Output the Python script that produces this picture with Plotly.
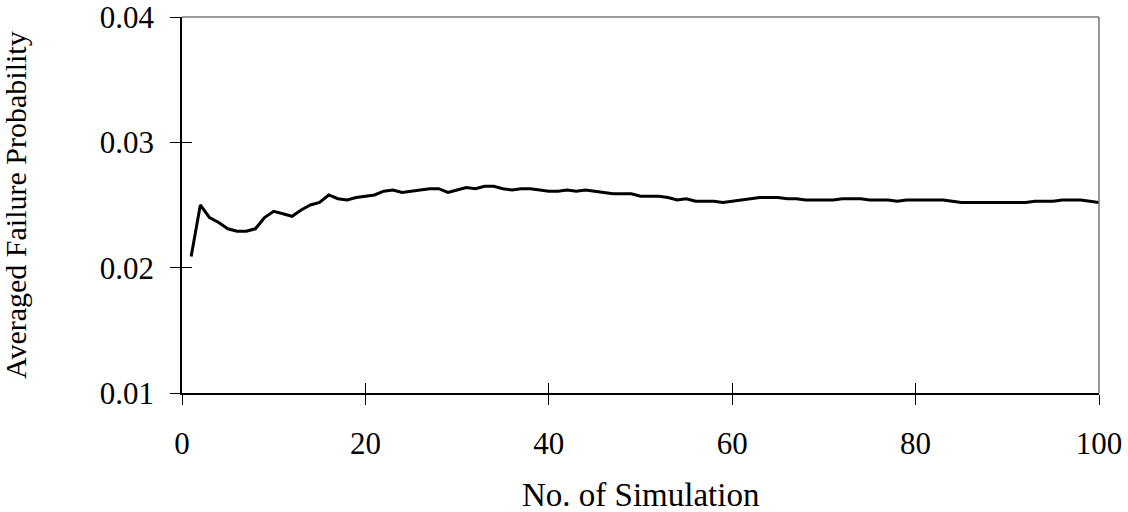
import plotly.graph_objects as go

sim_no = list(range(1, 101))
avg_failure_prob = [
    0.0209, 0.0250, 0.0240, 0.0236, 0.0231, 0.0229, 0.0229, 0.0231, 0.0240, 0.0245,
    0.0243, 0.0241, 0.0246, 0.0250, 0.0252, 0.0258, 0.0255, 0.0254, 0.0256, 0.0257,
    0.0258, 0.0261, 0.0262, 0.0260, 0.0261, 0.0262, 0.0263, 0.0263, 0.0260, 0.0262,
    0.0264, 0.0263, 0.0265, 0.0265, 0.0263, 0.0262, 0.0263, 0.0263, 0.0262, 0.0261,
    0.0261, 0.0262, 0.0261, 0.0262, 0.0261, 0.0260, 0.0259, 0.0259, 0.0259, 0.0257,
    0.0257, 0.0257, 0.0256, 0.0254, 0.0255, 0.0253, 0.0253, 0.0253, 0.0252, 0.0253,
    0.0254, 0.0255, 0.0256, 0.0256, 0.0256, 0.0255, 0.0255, 0.0254, 0.0254, 0.0254,
    0.0254, 0.0255, 0.0255, 0.0255, 0.0254, 0.0254, 0.0254, 0.0253, 0.0254, 0.0254,
    0.0254, 0.0254, 0.0254, 0.0253, 0.0252, 0.0252, 0.0252, 0.0252, 0.0252, 0.0252,
    0.0252, 0.0252, 0.0253, 0.0253, 0.0253, 0.0254, 0.0254, 0.0254, 0.0253, 0.0252,
]
x_ticks = [0, 20, 40, 60, 80, 100]
y_ticks = [0.01, 0.02, 0.03, 0.04]
y_tick_text = ["0.01", "0.02", "0.03", "0.04"]
x_title = "No. of Simulation"
y_title = "Averaged Failure Probability"

FONT = "Liberation Serif, Times New Roman, serif"
TS = 31

fig = go.Figure()
fig.add_trace(go.Scatter(x=sim_no, y=avg_failure_prob, mode="lines",
                         line=dict(color="black", width=3), showlegend=False))
# invisible trace for overlay axes (inner half of crossing ticks)
fig.add_trace(go.Scatter(x=[None], y=[None], xaxis="x2", yaxis="y2",
                         showlegend=False, hoverinfo="skip"))

common_x = dict(range=[0, 100], tickvals=x_ticks, showgrid=False, zeroline=False,
                automargin=False)
common_y = dict(range=[0.01, 0.04], tickvals=y_ticks, showgrid=False, zeroline=False,
                automargin=False)

fig.update_layout(
    width=1128, height=512,
    margin=dict(l=182, r=29, t=17, b=119),
    paper_bgcolor="white", plot_bgcolor="white",
    font=dict(family=FONT, size=TS, color="black"),
    xaxis=dict(**common_x, ticks="outside", ticklen=10, tickwidth=1.2, tickcolor="black",
               showline=True, linecolor="black", linewidth=1.5,
               ticktext=[str(v) for v in x_ticks], ticklabelstandoff=12,
               ticklabeloverflow="allow",
               tickfont=dict(family=FONT, size=TS)),
    yaxis=dict(**common_y, ticks="outside", ticklen=10, tickwidth=1.2, tickcolor="black",
               showline=True, linecolor="black", linewidth=1.5,
               ticktext=y_tick_text, ticklabelstandoff=10,
               ticklabeloverflow="allow",
               tickfont=dict(family=FONT, size=TS)),
    xaxis2=dict(**common_x, overlaying="x", ticks="inside", ticklen=10, tickwidth=1.2,
                tickcolor="black", showticklabels=False, showline=False),
    yaxis2=dict(**common_y, overlaying="y", ticks="inside", ticklen=10, tickwidth=1.2,
                tickcolor="black", showticklabels=False, showline=False),
    shapes=[
        dict(type="line", xref="paper", yref="paper", x0=0, x1=1, y0=1, y1=1,
             line=dict(color="#777777", width=1.5)),
        dict(type="line", xref="paper", yref="paper", x0=1, x1=1, y0=0, y1=1,
             line=dict(color="#777777", width=1.5)),
    ],
    annotations=[
        dict(text=x_title, xref="paper", yref="paper", x=0.5, y=0, yshift=-102,
             showarrow=False, font=dict(family=FONT, size=33), yanchor="middle"),
        dict(text=y_title, xref="paper", yref="paper", x=0, xshift=-167, y=0.5,
             textangle=-90, showarrow=False, font=dict(family=FONT, size=30),
             xanchor="center", yanchor="middle"),
    ],
)

fig.write_html("out.html", config={"displayModeBar": False},
               post_script="document.body.style.margin='0';document.body.style.padding='0';")
